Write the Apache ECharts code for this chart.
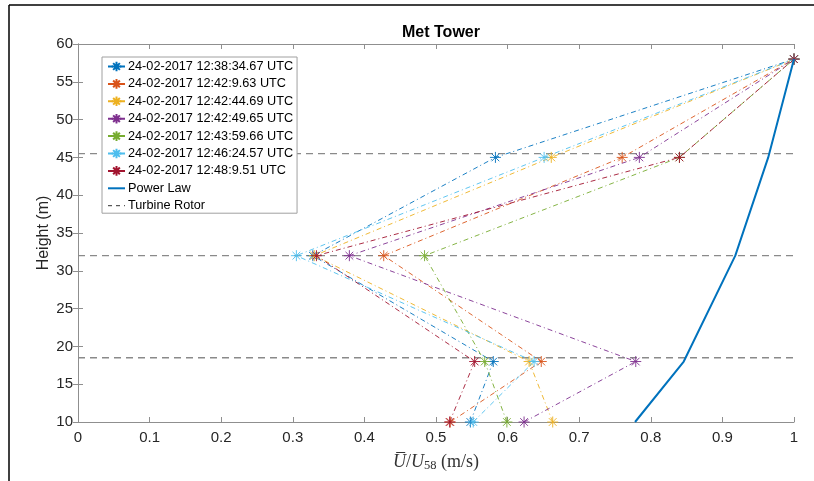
<!DOCTYPE html>
<html>
<head>
<meta charset="utf-8">
<script src="https://cdn.jsdelivr.net/npm/echarts@6/dist/echarts.min.js"></script>
<style>html,body{margin:0;padding:0;background:#fff;}#c{width:814px;height:481px;}</style>
</head>
<body>
<div id="c"></div>
<script>
// ---- data ----
const heights = [10, 18, 32, 45, 58];
const seriesNames = [
  '24-02-2017 12:38:34.67 UTC',
  '24-02-2017 12:42:9.63 UTC',
  '24-02-2017 12:42:44.69 UTC',
  '24-02-2017 12:42:49.65 UTC',
  '24-02-2017 12:43:59.66 UTC',
  '24-02-2017 12:46:24.57 UTC',
  '24-02-2017 12:48:9.51 UTC'
];
const s1 = [0.548, 0.580, 0.328, 0.583, 1];
const s2 = [0.520, 0.647, 0.427, 0.760, 1];
const s3 = [0.663, 0.630, 0.330, 0.661, 1];
const s4 = [0.623, 0.779, 0.379, 0.784, 1];
const s5 = [0.599, 0.568, 0.484, 0.840, 1];
const s6 = [0.552, 0.637, 0.305, 0.651, 1];
const s7 = [0.519, 0.554, 0.333, 0.840, 1];
const seriesValues = [s1, s2, s3, s4, s5, s6, s7];
const powerLawX = [0.778, 0.846, 0.918, 0.964, 1];
const powerLawH = [10, 18, 32, 45, 58];
const rotorHeights = [18.5, 32, 45.5];
const xTicks = [0, 0.1, 0.2, 0.3, 0.4, 0.5, 0.6, 0.7, 0.8, 0.9, 1];
const yTicks = [10, 15, 20, 25, 30, 35, 40, 45, 50, 55, 60];

// ---- styling ----
const colors = ['#0072BD', '#D95319', '#EDB120', '#7E2F8E', '#77AC30', '#4DBEEE', '#A2142F'];
const star = 'path://M0,10L20,10M10,0L10,20M3,3L17,17M3,17L17,3';
const axisGray = '#8f8f8f';
const font = 'Liberation Sans, Arial, Helvetica, sans-serif';
const serif = 'Liberation Serif, DejaVu Serif, serif';

const series = [];
seriesValues.forEach((vals, i) => {
  series.push({
    name: seriesNames[i],
    type: 'line',
    data: vals.map((v, k) => [v, heights[k]]),
    symbol: star,
    symbolSize: 11,
    itemStyle: { color: colors[i], borderColor: colors[i], borderWidth: 0.9 },
    lineStyle: { color: colors[i], width: 0.9, type: [5, 3, 1, 3] },
    z: 3
  });
});
series.push({
  name: 'Power Law',
  type: 'line',
  data: powerLawX.map((v, k) => [v, powerLawH[k]]),
  symbol: 'none',
  itemStyle: { color: '#0072BD' },
  lineStyle: { color: '#0072BD', width: 2 },
  z: 4
});
rotorHeights.forEach(h => {
  series.push({
    name: 'Turbine Rotor',
    type: 'line',
    data: [[xTicks[0], h], [xTicks[xTicks.length - 1], h]],
    symbol: 'none',
    itemStyle: { color: '#7f7f7f' },
    lineStyle: { color: '#8a8a8a', width: 1.3, type: [7, 5] },
    z: 2
  });
});

const legendData = seriesNames.map(n => ({ name: n })).concat([
  { name: 'Power Law', itemStyle: { opacity: 0 }, lineStyle: { color: '#0072BD', width: 2 } },
  { name: 'Turbine Rotor', itemStyle: { opacity: 0 }, lineStyle: { color: '#333', width: 1, type: [4, 4] } }
]);

const chart = echarts.init(document.getElementById('c'), null, { renderer: 'canvas' });
chart.setOption({
  animation: false,
  backgroundColor: '#fff',
  title: {
    text: 'Met Tower',
    left: 436, textAlign: 'center',
    top: 20,
    textStyle: { fontFamily: font, fontSize: 16, fontWeight: 'bold', color: '#000' }
  },
  graphic: [
    { type: 'line', shape: { x1: 9, y1: 5, x2: 9, y2: 481 }, style: { stroke: '#000', lineWidth: 1.5 } },
    { type: 'line', shape: { x1: 9, y1: 5, x2: 814, y2: 5 }, style: { stroke: '#000', lineWidth: 1.5 } }
  ],
  grid: { left: 78, right: 20, top: 44, bottom: 59, containLabel: false },
  legend: {
    data: legendData,
    orient: 'vertical',
    left: 102, top: 57,
    padding: [3, 4, 1, 5],
    itemGap: 4.4,
    itemWidth: 17, itemHeight: 12,
    backgroundColor: '#fff',
    borderColor: '#a0a0a0', borderWidth: 1,
    textStyle: { fontFamily: font, fontSize: 12.7, color: '#000', padding: [0, 0, 0, -2] }
  },
  xAxis: [{
    type: 'value', min: 0, max: 1, interval: 0.1, position: 'bottom',
    name: '{u|U\u0305}{n|/}{u|U}{s|58}{n| (m/s)}',
    nameLocation: 'middle', nameGap: 30,
    nameTextStyle: {
      rich: {
        u: { fontFamily: serif, fontStyle: 'italic', fontSize: 18, color: '#333' },
        n: { fontFamily: serif, fontSize: 18, color: '#333' },
        s: { fontFamily: serif, fontSize: 12.5, color: '#333', padding: [7, 0, 0, 0] }
      }
    },
    axisLine: { show: true, lineStyle: { color: axisGray, width: 1 } },
    axisTick: { show: true, inside: true, length: 5, lineStyle: { color: axisGray } },
    axisLabel: { fontFamily: font, fontSize: 15, color: '#262626', margin: 8 },
    splitLine: { show: false }
  }, {
    type: 'value', min: 0, max: 1, interval: 0.1, position: 'top',
    axisLine: { show: true, lineStyle: { color: axisGray, width: 1 } },
    axisTick: { show: true, inside: true, length: 5, lineStyle: { color: axisGray } },
    axisLabel: { show: false },
    splitLine: { show: false }
  }],
  yAxis: [{
    type: 'value', min: 10, max: 60, interval: 5, position: 'left',
    name: 'Height (m)', nameLocation: 'middle', nameGap: 26, nameMoveOverlap: false,
    nameTextStyle: { fontFamily: font, fontSize: 16, color: '#262626' },
    axisLine: { show: true, lineStyle: { color: axisGray, width: 1 } },
    axisTick: { show: true, inside: true, length: 5, lineStyle: { color: axisGray } },
    axisLabel: { fontFamily: font, fontSize: 15, color: '#262626', margin: 5 },
    splitLine: { show: false }
  }, {
    type: 'value', min: 10, max: 60, interval: 5, position: 'right',
    axisLine: { show: true, lineStyle: { color: axisGray, width: 1 } },
    axisTick: { show: true, inside: true, length: 5, lineStyle: { color: axisGray } },
    axisLabel: { show: false },
    splitLine: { show: false }
  }],
  series: series
});
</script>
</body>
</html>
